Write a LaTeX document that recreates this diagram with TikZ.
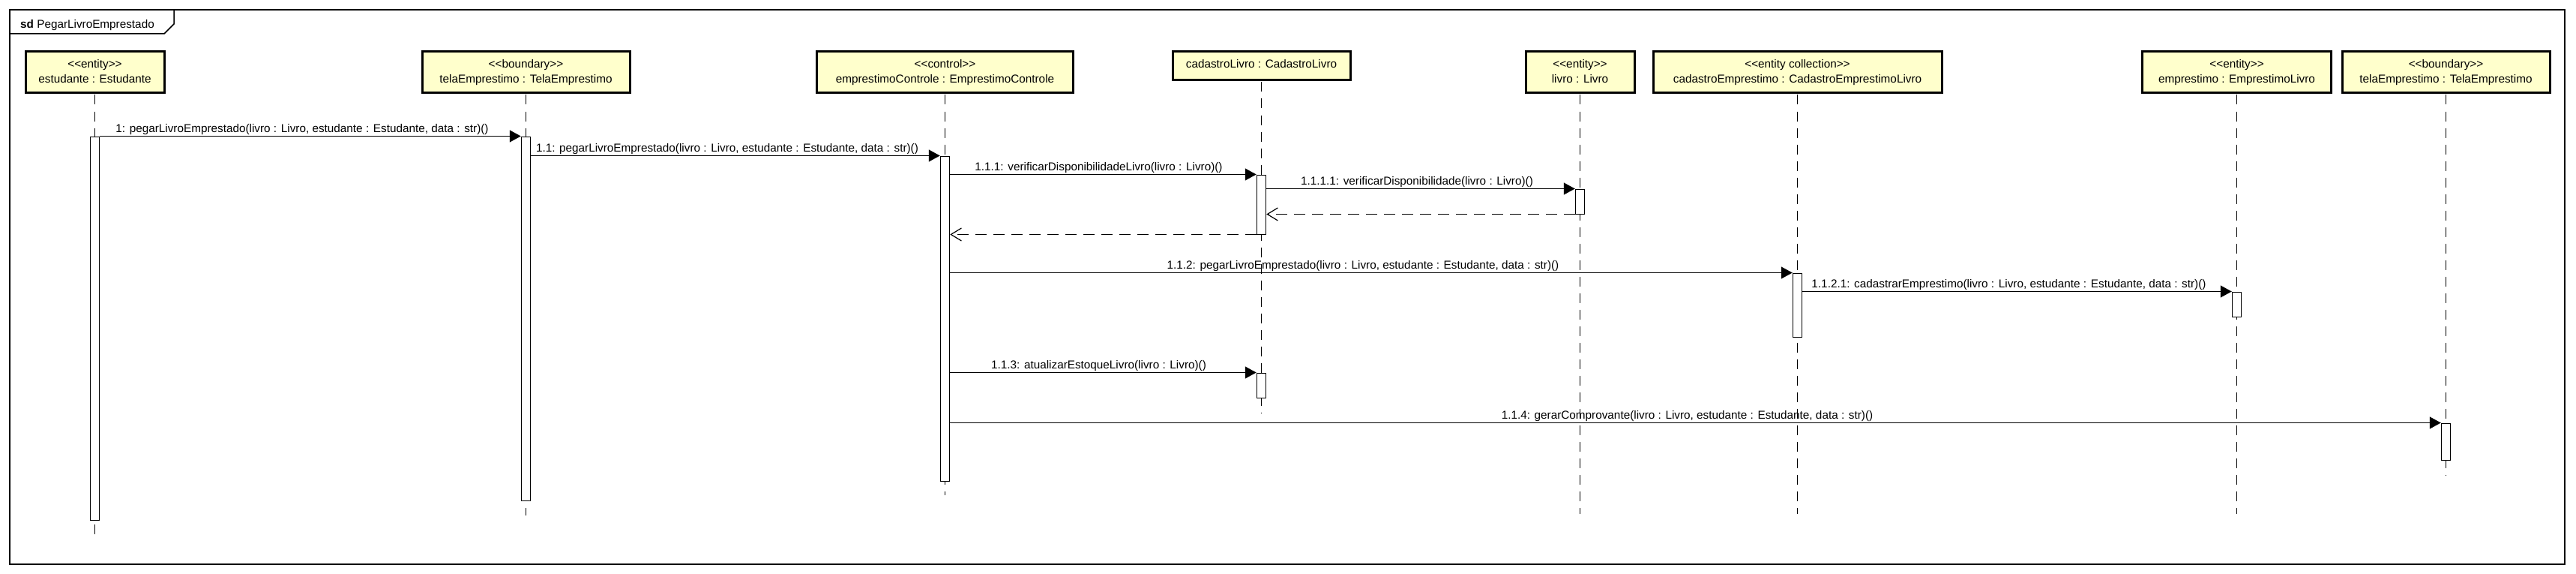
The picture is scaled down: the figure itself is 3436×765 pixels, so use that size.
\documentclass[tikz,border=0pt]{standalone}
\usepackage{fontspec}
\setmainfont{Liberation Sans}
\usetikzlibrary{arrows.meta}
\definecolor{pyellow}{RGB}{255,255,204}
\newcommand\stL{<\kern0pt<}
\newcommand\stR{>\kern0pt>}
\begin{document}
\begin{tikzpicture}[x=1pt,y=-1pt,
 every node/.style={font=\fontsize{15.3}{18}\selectfont},
 pbox/.style={draw=black, line width=3pt, fill=pyellow, inner sep=0pt, minimum height=55pt},
 ptext/.style={anchor=base, inner sep=0pt},
 life/.style={line width=1.1pt, dash pattern=on 13pt off 9pt},
 act/.style={draw=black, fill=white, line width=1pt, minimum width=12.5pt, inner sep=0pt},
 msg/.style={line width=1.3pt, -{Triangle[length=15pt,width=16pt]}},
 ret/.style={line width=1.3pt, dash pattern=on 15pt off 9pt, -{Straight Barb[length=14pt,width=17pt,line width=1.2pt]}},
 lbl/.style={anchor=south, inner sep=1pt, xshift=-11pt},
]
\useasboundingbox (0,0) rectangle (3436,765);
% frame
\draw[line width=1.5pt] (13,13) rectangle (3421,752);
\draw[line width=1.5pt] (13,45) -- (219,45) -- (232,32) -- (232,13);
\node[anchor=base west, inner sep=0pt] (title) at (27,37.5) {\textbf{sd} PegarLivroEmprestado};

% participants
\node[pbox, minimum width=185pt] (est) at (126.5,96) {};
\node[ptext] (estS) at (126.5,90.5) {\stL entity\stR};
\node[ptext] (estN) at (126.5,110.5) {estudante : Estudante};

\node[pbox, minimum width=277pt] (tela) at (701.5,96) {};
\node[ptext] (telaS) at (701.5,90.5) {\stL boundary\stR};
\node[ptext] (telaN) at (701.5,110.5) {telaEmprestimo : TelaEmprestimo};

\node[pbox, minimum width=342pt] (ctl) at (1260.5,96) {};
\node[ptext] (ctlS) at (1260.5,90.5) {\stL control\stR};
\node[ptext] (ctlN) at (1260.5,110.5) {emprestimoControle : EmprestimoControle};

\node[pbox, minimum width=237pt, minimum height=38pt] (cl) at (1682.5,87.5) {};
\node[ptext] (clN) at (1682.5,90.5) {cadastroLivro : CadastroLivro};

\node[pbox, minimum width=145pt] (livro) at (2107.5,96) {};
\node[ptext] (livroS) at (2107.5,90.5) {\stL entity\stR};
\node[ptext] (livroN) at (2107.5,110.5) {livro : Livro};

\node[pbox, minimum width=385pt] (ce) at (2397.5,96) {};
\node[ptext] (ceS) at (2397.5,90.5) {\stL entity collection\stR};
\node[ptext] (ceN) at (2397.5,110.5) {cadastroEmprestimo : CadastroEmprestimoLivro};

\node[pbox, minimum width=252pt] (emp) at (2983.5,96) {};
\node[ptext] (empS) at (2983.5,90.5) {\stL entity\stR};
\node[ptext] (empN) at (2983.5,110.5) {emprestimo : EmprestimoLivro};

\node[pbox, minimum width=277pt] (tela2) at (3262.5,96) {};
\node[ptext] (tela2S) at (3262.5,90.5) {\stL boundary\stR};
\node[ptext] (tela2N) at (3262.5,110.5) {telaEmprestimo : TelaEmprestimo};

% lifeline ends
\coordinate (estEnd) at (126.5,713);
\coordinate (telaEnd) at (701.5,687);
\coordinate (ctlEnd) at (1260.5,660);
\coordinate (clEnd) at (1682.5,550);
\coordinate (livroEnd) at (2107.5,685);
\coordinate (ceEnd) at (2397.5,685);
\coordinate (empEnd) at (2983.5,685);
\coordinate (tela2End) at (3262.5,633);

\draw[life] ([yshift=-1.5pt]est.south) -- (estEnd);
\draw[life] ([yshift=-1.5pt]tela.south) -- (telaEnd);
\draw[life] ([yshift=-1.5pt]ctl.south) -- (ctlEnd);
\draw[life] ([yshift=-1.5pt]cl.south) -- (clEnd);
\draw[life] ([yshift=-1.5pt]livro.south) -- (livroEnd);
\draw[life] ([yshift=-1.5pt]ce.south) -- (ceEnd);
\draw[life] ([yshift=-1.5pt]emp.south) -- (empEnd);
\draw[life] ([yshift=-1.5pt]tela2.south) -- (tela2End);

% activations
\node[act, minimum height=511pt] (actEst) at (126.5,437.5) {};
\node[act, minimum height=485pt] (actTela) at (701.5,424.5) {};
\node[act, minimum height=433pt] (actCtl) at (1260.5,424.5) {};
\node[act, minimum height=79pt] (actCL1) at (1682.5,272.5) {};
\node[act, minimum height=33pt] (actLivro) at (2107.5,268.5) {};
\node[act, minimum height=85pt] (actCE) at (2397.5,406.5) {};
\node[act, minimum height=33pt] (actEmp) at (2983.5,405.5) {};
\node[act, minimum height=33pt] (actCL2) at (1682.5,513.5) {};
\node[act, minimum height=49pt] (actTela2) at (3262.5,588.5) {};

% messages
\draw[msg] (actEst.north east) -- node[lbl] {1: pegarLivroEmprestado(livro : Livro, estudante : Estudante, data : str)()} (actTela.north west);
\draw[msg] (actTela.east |- actCtl.north) -- node[lbl] {1.1: pegarLivroEmprestado(livro : Livro, estudante : Estudante, data : str)()} (actCtl.north west);
\draw[msg] (actCtl.east |- actCL1.north) -- node[lbl, xshift=5pt] {1.1.1: verificarDisponibilidadeLivro(livro : Livro)()} (actCL1.north west);
\draw[msg] (actCL1.east |- actLivro.north) -- node[lbl, xshift=6pt] {1.1.1.1: verificarDisponibilidade(livro : Livro)()} (actLivro.north west);
\draw[ret] (actLivro.south west) -- (actCL1.east |- actLivro.south);
\draw[ret] (actCL1.south west) -- (actCtl.east |- actCL1.south);
\draw[msg] (actCtl.east |- actCE.north) -- node[lbl] {1.1.2: pegarLivroEmprestado(livro : Livro, estudante : Estudante, data : str)()} (actCE.north west);
\draw[msg] (actCE.east |- actEmp.north) -- node[lbl] {1.1.2.1: cadastrarEmprestimo(livro : Livro, estudante : Estudante, data : str)()} (actEmp.north west);
\draw[msg] (actCtl.east |- actCL2.north) -- node[lbl, xshift=5pt] {1.1.3: atualizarEstoqueLivro(livro : Livro)()} (actCL2.north west);
\draw[msg] (actCtl.east |- actTela2.north) -- node[lbl] {1.1.4: gerarComprovante(livro : Livro, estudante : Estudante, data : str)()} (actTela2.north west);
\end{tikzpicture}
\end{document}
